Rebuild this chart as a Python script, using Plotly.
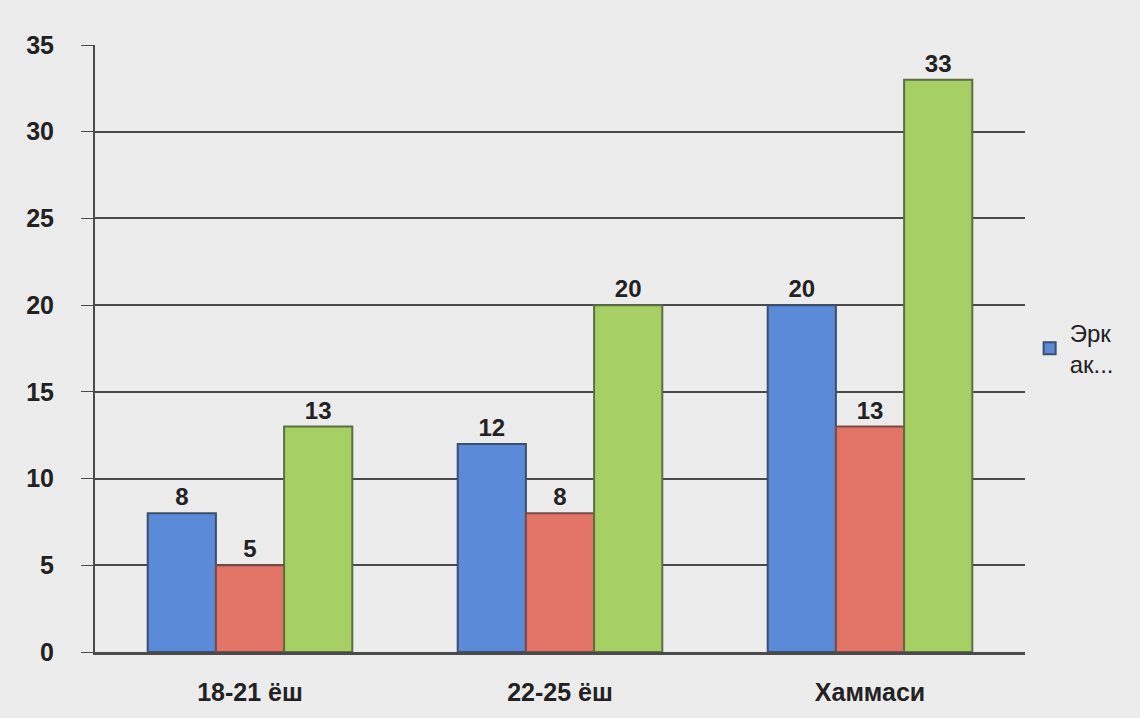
import plotly.graph_objects as go

categories = ["18-21 ёш", "22-25 ёш", "Хаммаси"]
series_names = ["Эрк<br>ак...", "Аёл", "Жами"]
blue_values = [8, 12, 20]
red_values = [5, 8, 13]
green_values = [13, 20, 33]
y_ticks = [0, 5, 10, 15, 20, 25, 30, 35]

colors = ["#5a8ad8", "#e27467", "#a6d064"]
outlines = ["#3c4f6e", "#7a4a44", "#5c6e44"]
all_values = [blue_values, red_values, green_values]

fig = go.Figure()
for i, (name, vals) in enumerate(zip(series_names, all_values)):
    fig.add_trace(go.Bar(
        x=categories, y=vals, name=name,
        marker=dict(color=colors[i], line=dict(color=outlines[i], width=2)),
        text=[str(v) for v in vals], textposition="outside",
        textfont=dict(family="Liberation Sans", size=24, color="#222222", weight="bold"),
        cliponaxis=False,
        showlegend=(i == 0),
    ))

fig.update_layout(
    width=1140, height=718,
    paper_bgcolor="#ececec", plot_bgcolor="#ececec",
    margin=dict(l=95, r=115, t=45, b=66),
    barmode="group", bargap=0.34, bargroupgap=0.0,
    font=dict(family="Liberation Sans", color="#222222"),
    legend=dict(x=1.005, y=0.5, yanchor="middle", xanchor="left",
                font=dict(size=24, color="#222222"), bgcolor="rgba(0,0,0,0)"),
    xaxis=dict(
        showgrid=False, showline=True, linecolor="#4a4a4a", linewidth=3,
        ticks="", tickfont=dict(size=25, family="Liberation Sans", color="#222222", weight="bold"),
        ticklabelstandoff=16,
    ),
    yaxis=dict(
        range=[0, 35], tickvals=y_ticks,
        showgrid=True, gridcolor="#4a4a4a", gridwidth=2,
        showline=True, linecolor="#4a4a4a", linewidth=2,
        ticks="outside", ticklen=12, tickcolor="#4a4a4a",
        tickfont=dict(size=25, family="Liberation Sans", color="#222222", weight="bold"),
        ticklabelstandoff=22,
        zeroline=False,
    ),
)

fig.write_html("out.html")
